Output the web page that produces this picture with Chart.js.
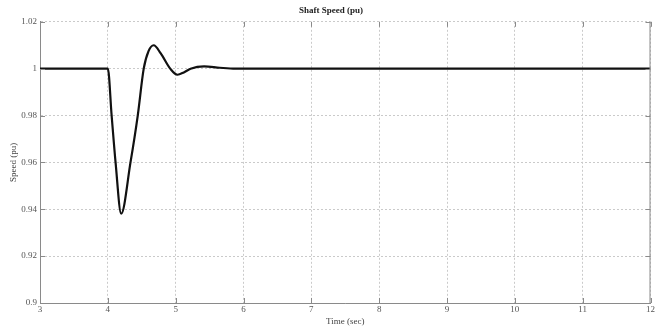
<!DOCTYPE html>
<html lang="en">
<head>
    <meta charset="UTF-8">
    <title>Shaft Speed (pu)</title>
    <script src="https://cdn.jsdelivr.net/npm/chart.js"></script>
    <style>
        body { margin: 0; padding: 0; background: #fff; }
        #wrap { width: 656px; height: 327px; }
    </style>
</head>
<body>
    <div id="wrap"><canvas id="speed-chart" width="656" height="327"></canvas></div>
    <script>
        // values
        const timeSec = [3, 4, 4.056, 4.114, 4.197, 4.334, 4.441, 4.529, 4.6, 4.676, 4.78, 4.92, 5.026, 5.12, 5.22, 5.42, 5.65, 5.88, 12];
        const speedPu = [1, 1, 0.98, 0.96, 0.9381, 0.96, 0.98, 1.0, 1.0075, 1.0100, 1.0065, 1.0, 0.9974, 0.9984, 1.0, 1.001, 1.0004, 1.0, 1];
        const xTicks = [3, 4, 5, 6, 7, 8, 9, 10, 11, 12];
        const yTicks = [0.9, 0.92, 0.94, 0.96, 0.98, 1, 1.02];

        const points = timeSec.map((t, i) => ({x: t, y: speedPu[i]}));
        const font = {family: "'Liberation Serif', 'DejaVu Serif', serif", size: 9};

        // right edge of the box and small inward ticks, like matlab
        const boxRight = {
            id: 'boxRight',
            afterDraw(chart) {
                const a = chart.chartArea, ctx = chart.ctx;
                const xs = chart.scales.x, ys = chart.scales.y;
                ctx.save();
                ctx.strokeStyle = '#8a8a8a';
                ctx.lineWidth = 1;
                ctx.beginPath();
                ctx.moveTo(a.right - 0.5, a.top);
                ctx.lineTo(a.right - 0.5, a.bottom);
                xTicks.forEach(v => {
                    const px = Math.round(xs.getPixelForValue(v)) + 0.5;
                    ctx.moveTo(px, a.bottom); ctx.lineTo(px, a.bottom - 5);
                    ctx.moveTo(px, a.top); ctx.lineTo(px, a.top + 5);
                });
                yTicks.forEach(v => {
                    const py = Math.round(ys.getPixelForValue(v)) + 0.5;
                    ctx.moveTo(a.left, py); ctx.lineTo(a.left + 5, py);
                    ctx.moveTo(a.right, py); ctx.lineTo(a.right - 5, py);
                });
                ctx.stroke();
                ctx.restore();
            }
        };

        new Chart(document.getElementById('speed-chart'), {
            type: 'line',
            data: {
                datasets: [{
                    data: points,
                    borderColor: '#111',
                    borderWidth: 2.2,
                    pointRadius: 0,
                    cubicInterpolationMode: 'monotone',
                    fill: false
                }]
            },
            options: {
                responsive: false,
                animation: false,
                layout: {padding: {left: 8, right: 2, top: 0, bottom: 0}},
                plugins: {
                    legend: {display: false},
                    tooltip: {enabled: false},
                    title: {
                        display: true,
                        text: 'Shaft Speed (pu)',
                        color: '#222',
                        font: {family: font.family, size: 9, weight: 'bold'},
                        padding: {top: 5, bottom: 6}
                    }
                },
                scales: {
                    x: {
                        type: 'linear',
                        min: 3, max: 12,
                        afterBuildTicks: axis => { axis.ticks = xTicks.map(v => ({value: v})); },
                        afterFit: axis => { axis.height = 24; },
                        ticks: {color: '#555', font: font, padding: 1, maxRotation: 0},
                        grid: {color: '#cacaca', drawTicks: false},
                        border: {color: '#8a8a8a', dash: [2, 2]},
                        title: {display: true, text: 'Time (sec)', color: '#444', font: font, padding: 0}
                    },
                    y: {
                        min: 0.9, max: 1.02,
                        afterBuildTicks: axis => { axis.ticks = yTicks.map(v => ({value: v})); },
                        afterFit: axis => { axis.width = 32; },
                        ticks: {color: '#555', font: font, padding: 3, callback: v => String(+v.toFixed(2))},
                        grid: {color: '#cacaca', drawTicks: false},
                        border: {color: '#8a8a8a', dash: [2, 2]},
                        title: {display: true, text: 'Speed (pu)', color: '#444', font: font, padding: 0}
                    }
                }
            },
            plugins: [boxRight]
        });
    </script>
</body>
</html>
